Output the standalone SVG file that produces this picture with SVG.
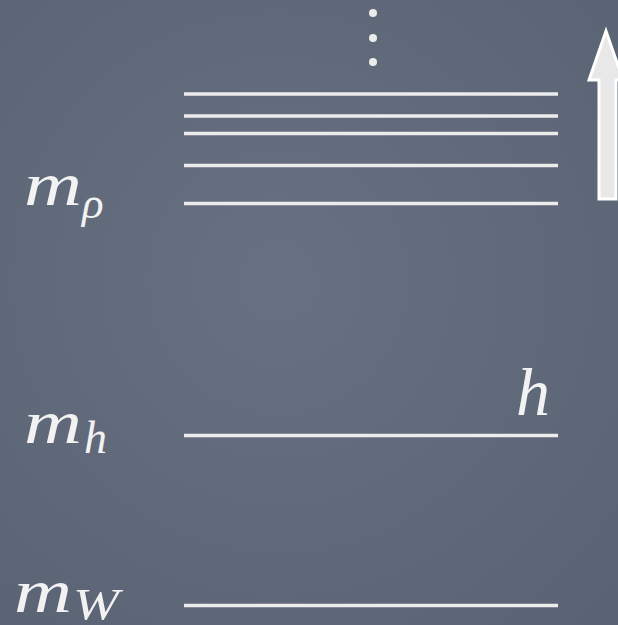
<svg xmlns="http://www.w3.org/2000/svg" width="618" height="625" viewBox="0 0 618 625">
<defs>
<radialGradient id="bg" cx="0.45" cy="0.45" r="0.75">
<stop offset="0" stop-color="#687182"/>
<stop offset="1" stop-color="#5a6374"/>
</radialGradient>
</defs>
<style>
.lvl{stroke:#ececec;stroke-width:3.5;fill:none}
.t{fill:#f2f2f2;font-family:"Liberation Serif",serif;font-style:italic}
</style>
<rect width="618" height="625" fill="url(#bg)"/>
<g id="connectors">
<line class="lvl" x1="184" y1="94" x2="558" y2="94"/>
<line class="lvl" x1="184" y1="116" x2="558" y2="116"/>
<line class="lvl" x1="184" y1="133.5" x2="558" y2="133.5"/>
<line class="lvl" x1="184" y1="165.5" x2="558" y2="165.5"/>
<line class="lvl" x1="184" y1="203.5" x2="558" y2="203.5"/>
<line class="lvl" x1="184" y1="435.5" x2="558" y2="435.5"/>
<line class="lvl" x1="184" y1="605.5" x2="558" y2="605.5"/>
</g>
<g id="dots" fill="#ececec">
<circle cx="373" cy="13" r="4"/>
<circle cx="373" cy="38" r="4"/>
<circle cx="373" cy="62" r="4"/>
</g>
<g id="arrow">
<polygon points="599,199 599,80 589,80 606,31 623,80 616,80 616,199" fill="#e8e8e8" stroke="#ffffff" stroke-width="3" stroke-linejoin="miter"/>
</g>
<g id="label-rho">
<text class="t" font-size="62" x="24" y="205" textLength="58" lengthAdjust="spacingAndGlyphs">m</text>
<text class="t" font-size="45" x="82" y="218">ρ</text>
</g>
<g id="label-h">
<text class="t" font-size="62" x="24" y="443" textLength="58" lengthAdjust="spacingAndGlyphs">m</text>
<text class="t" font-size="46" x="84" y="453">h</text>
</g>
<g id="label-W">
<text class="t" font-size="62" x="14" y="612" textLength="58" lengthAdjust="spacingAndGlyphs">m</text>
<text class="t" font-size="44" x="73" y="619" textLength="46" lengthAdjust="spacingAndGlyphs">W</text>
</g>
<g id="label-h-top">
<text class="t" font-size="68" x="516" y="415">h</text>
</g>
</svg>
